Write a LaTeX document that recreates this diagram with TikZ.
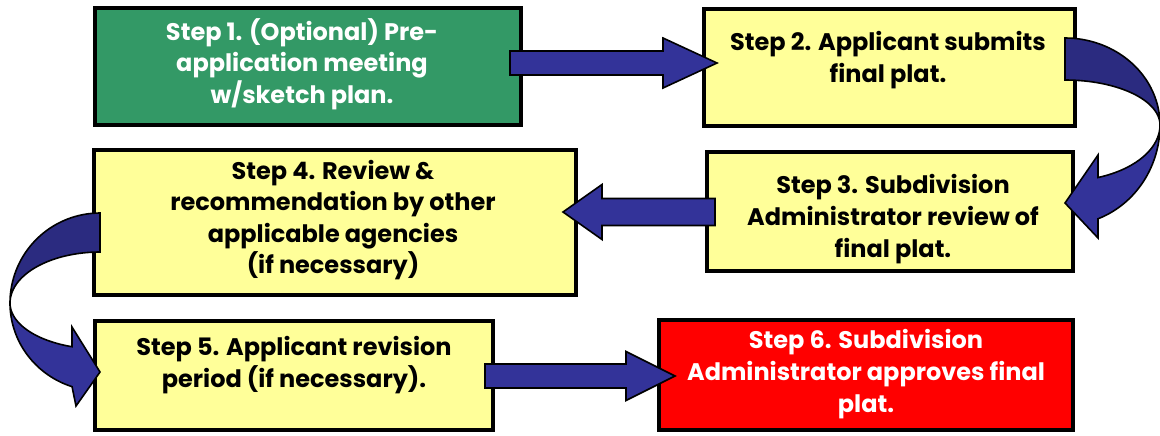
\documentclass[tikz,border=0pt]{standalone}
\usepackage{fontspec}
\setmainfont{Poppins}
\usetikzlibrary{calc}

\definecolor{stepgreen}{HTML}{339966}
\definecolor{stepyellow}{HTML}{FFFF99}
\definecolor{stepred}{HTML}{FF0000}
\definecolor{arrowblue}{HTML}{333399}
\definecolor{arrowdark}{HTML}{2B2B80}

\tikzset{
  stepbox/.style={draw=black, line width=2pt, rectangle, inner sep=0pt},
  steptext/.style={align=center, inner sep=0pt,
    font=\fontsize{12}{15.8}\selectfont\bfseries},
  blockarrow/.style={draw=black, line width=0.8pt, fill=arrowblue, line join=miter},
  blockback/.style={draw=black, line width=0.8pt, fill=arrowdark, line join=miter},
}

% straight block arrow: shaft start, tip, shaft half width, head half width,
% head length, direction (1 = right, -1 = left)
\newcommand\hblockarrow[6]{%
  \filldraw[blockarrow] ($(#1)+(0,-#3)$) -- ($(#2)+({-#6*#5},-#3)$)
    -- ($(#2)+({-#6*#5},-#4)$) -- (#2) -- ($(#2)+({-#6*#5},#4)$)
    -- ($(#2)+({-#6*#5},#3)$) -- ($(#1)+(0,#3)$) -- cycle;}

\begin{document}
\begin{tikzpicture}[x=0.5pt, y=-0.5pt]
\useasboundingbox (0,0) rectangle (1160,435);
\fill[white] (0,0) rectangle (1160,435);

% step boxes
\node[stepbox, fill=stepgreen,  minimum width=213pt,   minimum height=58.5pt] (s1) at (308,66.5) {};
\node[stepbox, fill=stepyellow, minimum width=185.5pt, minimum height=58.5pt] (s2) at (889.5,67.5) {};
\node[stepbox, fill=stepyellow, minimum width=183pt,   minimum height=59.5pt] (s3) at (890,211.5) {};
\node[stepbox, fill=stepyellow, minimum width=241pt,   minimum height=72.5pt] (s4) at (335,222.5) {};
\node[stepbox, fill=stepyellow, minimum width=199pt,   minimum height=54.5pt] (s5) at (294,375.5) {};
\node[stepbox, fill=stepred,    minimum width=207pt,   minimum height=55pt]   (s6) at (866,375) {};

% step texts
\node[steptext, text=white] (t1) at ($(s1.center)+(-6,-2.5)$)
  {Step 1. (Optional) Pre-\\application meeting\\w/sketch plan.};
\node[steptext] (t2) at ($(s2.center)+(-1.5,-7.5)$)
  {Step 2. Applicant submits\\final plat.};
\node[steptext] (t3) at ($(s3.center)+(3,7.5)$)
  {Step 3. Subdivision\\Administrator review of\\final plat.};
\node[steptext] (t4) at ($(s4.center)+(-2,-2.5)$)
  {Step 4. Review \&\\recommendation by other\\applicable agencies\\(if necessary)};
\node[steptext] (t5) at ($(s5.center)+(0,-10.5)$)
  {Step 5. Applicant revision\\period (if necessary).};
\node[steptext, text=white] (t6) at ($(s6.center)+(0,-1)$)
  {Step 6. Subdivision\\Administrator approves final\\plat.};

% straight connectors
\coordinate (a1s) at ($(s1.east)+(-13,-3.5)$);
\coordinate (a1t) at ($(s2.west)+(15,-4.5)$);
\hblockarrow{a1s}{a1t}{12}{25}{54}{1}

\coordinate (a2s) at ($(s3.west)+(10,0.5)$);
\coordinate (a2t) at ($(s4.east)+(-15,-10.5)$);
\hblockarrow{a2s}{a2t}{13.5}{27.5}{39}{-1}

\coordinate (a3s) at ($(s5.east)+(-10,0.5)$);
\coordinate (a3t) at ($(s6.west)+(18,1)$);
\hblockarrow{a3s}{a3t}{12}{24.5}{49}{1}

% curved connector from step 2 down to step 3
\coordinate (c23) at ($(s2.east)+(-12,57.5)$);
\begin{scope}[shift={(c23)}]
  \filldraw[blockback]
    plot[domain=90:0, samples=40] ({95*cos(\x)},{-87*sin(\x)})
    -- plot[domain=0:90, samples=40] ({95*cos(\x)},{-45*sin(\x)}) -- cycle;
  \filldraw[blockarrow]
    plot[domain=0:-69.7, samples=40] ({95*cos(\x)},{-56*sin(\x)})
    -- (33,30) -- (0,78) -- (33,113)
    -- plot[domain=-69.7:0, samples=40] ({95*cos(\x)},{-100*sin(\x)}) -- cycle;
\end{scope}

% curved connector from step 4 down to step 5
\coordinate (c45) at ($(s4.west)+(8,80.5)$);
\begin{scope}[shift={(c45)}]
  \filldraw[blockback]
    plot[domain=90:180, samples=40] ({90*cos(\x)},{-90*sin(\x)})
    -- plot[domain=180:90, samples=40] ({90*cos(\x)},{-51*sin(\x)}) -- cycle;
  \filldraw[blockarrow]
    plot[domain=180:251.9, samples=40] ({90*cos(\x)},{-46*sin(\x)})
    -- (-28,24) -- (0,69) -- (-24,103)
    -- plot[domain=251.9:180, samples=40] ({90*cos(\x)},{-88*sin(\x)}) -- cycle;
\end{scope}
\end{tikzpicture}
\end{document}
